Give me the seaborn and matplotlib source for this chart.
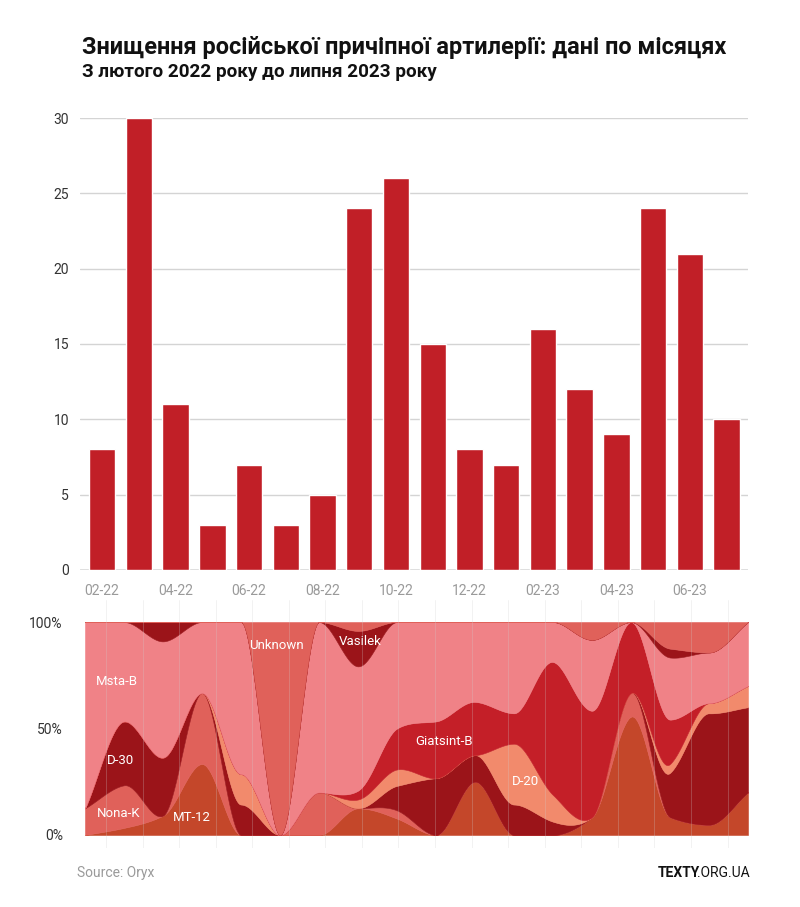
import numpy as np
import pandas as pd
import seaborn as sns
import matplotlib.pyplot as plt

# monthly totals (bars)
months = ['02-22', '03-22', '04-22', '05-22', '06-22', '07-22', '08-22', '09-22', '10-22',
          '11-22', '12-22', '01-23', '02-23', '03-23', '04-23', '05-23', '06-23', '07-23']
destroyed = [8, 30, 11, 3, 7, 3, 5, 24, 26, 15, 8, 7, 16, 12, 9, 24, 21, 10]

# counts by type per month (stream, bottom to top)
mt12 = [0, 1, 1, 1, 0, 0, 0, 3, 2, 0, 2, 0, 0, 1, 5, 2, 1, 2]
nona_k = [1, 6, 0, 1, 0, 0, 1, 0, 1, 0, 0, 0, 0, 0, 1, 0, 0, 0]
d30 = [0, 9, 3, 0, 1, 0, 0, 0, 3, 4, 1, 1, 1, 0, 0, 5, 11, 4]
d20 = [0, 0, 0, 0, 1, 0, 0, 1, 2, 0, 0, 2, 2, 0, 0, 1, 1, 1]
giatsint_b = [0, 0, 0, 0, 0, 0, 0, 1, 5, 4, 2, 1, 10, 6, 3, 5, 0, 0]
msta_b = [7, 14, 6, 1, 5, 0, 4, 14, 13, 7, 3, 3, 3, 4, 0, 7, 5, 3]
vasilek = [0, 0, 1, 0, 0, 0, 0, 4, 0, 0, 0, 0, 0, 0, 0, 1, 0, 0]
unknown = [0, 0, 0, 0, 0, 3, 0, 1, 0, 0, 0, 0, 0, 1, 0, 3, 3, 0]

layers = [mt12, nona_k, d30, d20, giatsint_b, msta_b, vasilek, unknown]
layer_colors = ['#c4472a', '#e0615a', '#9b1419', '#f28a6c', '#c41f28', '#f08287', '#9b1419', '#e0615a']

BAR = '#c11f27'
FONT = ['Roboto', 'DejaVu Sans']


def pchip(y, xn):
  # monotone cubic on uniform x = 0..n-1
  y = np.asarray(y, float)
  n = len(y)
  delta = np.diff(y)
  d = np.zeros(n)
  for k in range(1, n - 1):
    if delta[k - 1] * delta[k] > 0:
      d[k] = 2.0 / (1.0 / delta[k - 1] + 1.0 / delta[k])
  d[0] = delta[0]
  d[-1] = delta[-1]
  k = np.clip(np.floor(xn).astype(int), 0, n - 2)
  t = xn - k
  h00 = 2 * t**3 - 3 * t**2 + 1
  h10 = t**3 - 2 * t**2 + t
  h01 = -2 * t**3 + 3 * t**2
  h11 = t**3 - t**2
  return h00 * y[k] + h10 * d[k] + h01 * y[k + 1] + h11 * d[k + 1]


sns.set_theme(style='white')
plt.rcParams['font.family'] = FONT

fig = plt.figure(figsize=(8, 9.07), dpi=100)

fig.text(0.1025, 0.948, 'Знищення російської причіпної артилерії: дані по місяцях',
         fontsize=16.9, fontweight='bold', color='#111111', va='center')
fig.text(0.1025, 0.9206, 'З лютого 2022 року до липня 2023 року',
         fontsize=13.6, fontweight='bold', color='#111111', va='center')

# ---- top bar chart
ax = fig.add_axes([0.1, 0.3716, 0.835, 0.4983])
df = pd.DataFrame({'month': months, 'n': destroyed})
sns.barplot(data=df, x='month', y='n', color=BAR, saturation=1, width=0.72, ax=ax, zorder=3)
ax.set_xlim(-0.6, 17.58)
ax.set_ylim(0, 30)
ax.set_yticks(range(0, 31, 5))
ax.set_xticks(range(0, 18, 2))
ax.set_xticklabels(months[::2])
ax.set_xlabel('')
ax.set_ylabel('')
ax.grid(axis='y', color='#d4d4d4', lw=1)
ax.axhline(0, color='#dddddd', lw=2, zorder=2)
sns.despine(ax=ax, left=True, bottom=True)
ax.tick_params(axis='y', length=0, pad=8, labelsize=10, labelcolor='#333333')
ax.tick_params(axis='x', length=0, pad=10, labelsize=10, labelcolor='#9a9a9a')

# ---- bottom 100% stream
ax2 = fig.add_axes([0.10625, 0.0794, 0.82875, 0.2348])
xs = np.linspace(0, len(months) - 1, 600)
totals = np.sum(layers, axis=0)
smooth = [np.clip(pchip(np.array(l) / totals, xs), 0, None) for l in layers]
ssum = np.sum(smooth, axis=0)
smooth = [s / ssum for s in smooth]
ax2.stackplot(xs, smooth, colors=layer_colors, edgecolor='face', linewidth=0.4)
ax2.set_xlim(0, len(months) - 1)
ax2.set_ylim(0, 1)
ax2.set_yticks([0, 0.5, 1])
ax2.set_yticklabels(['0%', '50%', '100%'])
ax2.set_xticks([])
sns.despine(ax=ax2, left=True, bottom=True)
ax2.tick_params(axis='y', length=0, pad=16, labelsize=10, labelcolor='#333333')

labels = [('Msta-B', 0.82, 0.72), ('D-30', 0.92, 0.35), ('Nona-K', 0.85, 0.10),
          ('MT-12', 2.75, 0.08), ('Unknown', 4.9, 0.89), ('Vasilek', 7.05, 0.91),
          ('Giatsint-B', 9.2, 0.44), ('D-20', 11.3, 0.25)]
for name, lx, ly in labels:
  ax2.text(lx, ly, name, color='white', fontsize=9.5, ha='center', va='center')

# vertical month guides over the stream
axg = fig.add_axes([0.10625, 0.065, 0.82875, 0.2735], facecolor='none')
axg.set_xlim(-0.575, 17.56)
axg.set_ylim(0, 1)
axg.set_xticks(range(18))
axg.set_yticks([])
axg.tick_params(length=0, labelbottom=False)
axg.grid(axis='x', color='#cfcfcf', alpha=0.3, lw=0.6)
sns.despine(ax=axg, left=True, bottom=True)

# ---- footer
fig.text(0.096, 0.0375, 'Source: Oryx', fontsize=10, color='#9a9a9a', va='center')
org = fig.text(0.9375, 0.0375, '.ORG.UA', fontsize=10, color='#111111', va='center', ha='right')
fig.canvas.draw()
bb = org.get_window_extent()
fig.text((bb.x0 + 3) / fig.bbox.width, 0.0375, 'TEXTY', fontsize=10, fontweight='bold',
         color='#111111', va='center', ha='right')

plt.savefig('out.png', dpi=100)
